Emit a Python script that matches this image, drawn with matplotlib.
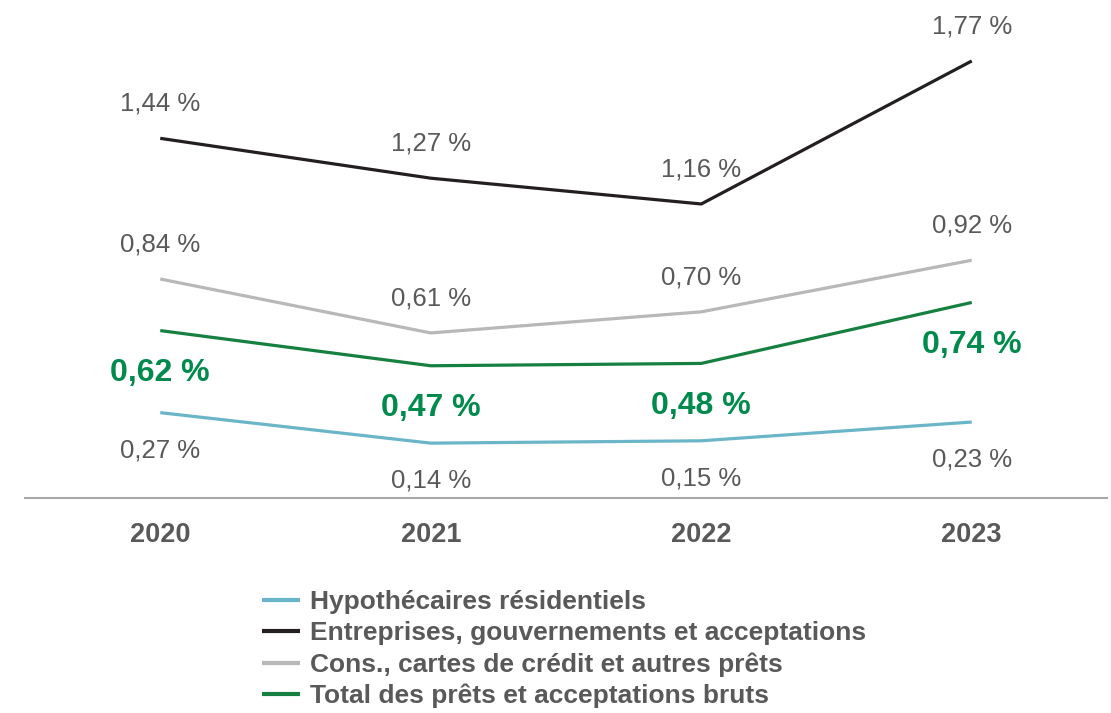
import matplotlib.pyplot as plt

plt.rcParams["font.family"] = ["Liberation Sans", "DejaVu Sans"]

YEARS = ["2020", "2021", "2022", "2023"]
RESIDENTIAL = [0.27, 0.14, 0.15, 0.23]
BUSINESS = [1.44, 1.27, 1.16, 1.77]
CONSUMER = [0.84, 0.61, 0.70, 0.92]
TOTAL = [0.62, 0.47, 0.48, 0.74]

SERIES_NAMES = [
    "Hypothécaires résidentiels",
    "Entreprises, gouvernements et acceptations",
    "Cons., cartes de crédit et autres prêts",
    "Total des prêts et acceptations bruts",
]

TEXT_GREY = "#595959"
LABEL_GREEN = "#008A4B"


def fmt(v: float) -> str:
    return f"{v:.2f}".replace(".", ",") + " %"


fig = plt.figure(figsize=(11.11, 7.13), dpi=100)
ax = fig.add_axes([25 / 1111, (713 - 498) / 713, 1082 / 1111, 498 / 713])

x = list(range(len(YEARS)))
series = [
    (RESIDENTIAL, "#6BB5C8", -27, False),
    (BUSINESS, "#231F20", 25, False),
    (CONSUMER, "#B8B8B8", 25, False),
    (TOTAL, "#15803F", -30.5, True),
]
for (values, color, dy, bold), name in zip(series, SERIES_NAMES):
    ax.plot(x, values, color=color, linewidth=2.3, label=name, solid_capstyle="butt")
    for xi, v in zip(x, values):
        ax.annotate(
            fmt(v),
            (xi, v),
            xytext=(0, dy),
            textcoords="offset points",
            ha="center",
            va="center",
            fontsize=23 if bold else 18.5,
            fontweight="bold" if bold else "normal",
            color=LABEL_GREEN if bold else TEXT_GREY,
        )

ax.set_xlim(-0.5, 3.5)
ax.set_ylim(-0.094, 2.03)
ax.set_xticks(x)
ax.set_xticklabels(YEARS, fontsize=19.5, fontweight="bold", color=TEXT_GREY)
ax.tick_params(axis="x", length=0, pad=17)
ax.set_yticks([])
for side in ["top", "right", "left"]:
    ax.spines[side].set_visible(False)
ax.spines["bottom"].set_color("#A6A6A6")
ax.spines["bottom"].set_linewidth(1.5)

leg = fig.legend(
    loc="upper left",
    bbox_to_anchor=(262 / 1111, 1 - 590 / 713),
    frameon=False,
    fontsize=19,
    handlelength=1.44,
    handletextpad=0.38,
    labelspacing=0.27,
    borderaxespad=0,
    borderpad=0,
)
for t in leg.get_texts():
    t.set_fontweight("bold")
    t.set_color(TEXT_GREY)
for h in leg.legend_handles:
    h.set_linewidth(3)

fig.savefig("out.png", dpi=100)
